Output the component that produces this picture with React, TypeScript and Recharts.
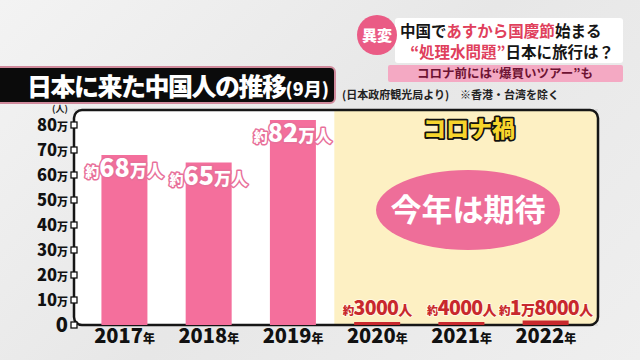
import {
  Bar,
  CartesianGrid,
  Cell,
  ComposedChart,
  LabelList,
  ReferenceArea,
  XAxis,
  YAxis,
} from "recharts";

// 日本に来た中国人 (9月), 単位: 万人
const years = [2017, 2018, 2019, 2020, 2021, 2022];
const visitors = [68, 65, 82, 0.3, 0.4, 1.8];
const valueLabels = ["約68万人", "約65万人", "約82万人", "約3000人", "約4000人", "約1万8000人"];
const covidYears = [2020, 2021, 2022];
const yTicks = [0, 10, 20, 30, 40, 50, 60, 70, 80];

const rows = years.map((year, i) => ({ year, visitors: visitors[i], label: valueLabels[i] }));

const X_DOMAIN: [number, number] = [2016.4, 2022.62];
const Y_MAX = 86;
const COVID_FROM = 2019.49;

const FONT = "'Noto Sans CJK JP', 'Noto Sans', sans-serif";
const PINK = "#f46f9c";
const RED = "#c8282d";
const YELLOW = "#fdf0c3";

function splitLabel(text: string) {
  return text.match(/約|\d+|[^\d約]+/g) ?? [text];
}

function ValueLabel(props: any) {
  const { x, y, width, height, value } = props;
  const idx = valueLabels.indexOf(value);
  const covid = covidYears.includes(years[idx]);
  const cx = x + width / 2;
  const sizes = covid ? { pre: 11.5, num: 19.5, unit: 14 } : { pre: 14, num: 25, unit: 17 };
  const centerY = covid ? y + height - 17 : y + 13;
  const parts = splitLabel(String(value));
  return (
    <text
      x={cx}
      y={centerY + sizes.num * 0.36}
      textAnchor="middle"
      fontFamily={FONT}
      fontWeight={900}
      letterSpacing={covid ? -0.7 : 0}
      fill={covid ? RED : "#fff"}
      stroke={covid ? "#fff8e2" : "#e8709a"}
      strokeWidth={covid ? 2 : 3}
      paintOrder="stroke"
      strokeLinejoin="round"
    >
      {parts.map((p, i) => (
        <tspan key={i} fontSize={p === "約" ? sizes.pre : /\d/.test(p) ? sizes.num : sizes.unit}>
          {p}
        </tspan>
      ))}
    </text>
  );
}

function YTick(props: any) {
  const { x, y, payload } = props;
  const v = payload.value;
  return (
    <g>
      <text x={x - 1} y={y} dy={v === 0 ? 7 : 6} textAnchor="end" fontFamily={FONT} fontWeight={900} fill="#111">
        {v === 0 ? (
          <tspan fontSize={20}>0</tspan>
        ) : (
          <>
            <tspan fontSize={16.5}>{v}</tspan>
            <tspan fontSize={11}>万</tspan>
          </>
        )}
      </text>
      <rect x={x + 2} y={y - 3} width={6} height={6} fill="#fff" stroke="#111" strokeWidth={1.3} />
    </g>
  );
}

function XTick(props: any) {
  const { x, y, payload } = props;
  return (
    <text x={x} y={y + 18} textAnchor="middle" fontFamily={FONT} fontWeight={900} fill="#111">
      <tspan fontSize={20}>{payload.value}</tspan>
      <tspan fontSize={12}>年</tspan>
    </text>
  );
}

const frameBg = (p: any) => <rect x={p.x} y={p.y} width={p.width} height={p.height} rx={8} fill="#fff" />;
const covidBg = (p: any) => {
  const r = 8;
  const { x, y, width: w, height: h } = p;
  return (
    <path
      d={`M${x},${y} H${x + w - r} Q${x + w},${y} ${x + w},${y + r} V${y + h - r} Q${x + w},${y + h} ${x + w - r},${y + h} H${x} Z`}
      fill={YELLOW}
    />
  );
};
const frameLine = (p: any) => (
  <rect x={p.x} y={p.y} width={p.width} height={p.height} rx={8} fill="none" stroke="#161616" strokeWidth={2.5} />
);

export default function App() {
  return (
    <div
      style={{
        position: "absolute",
        left: 0,
        top: 0,
        width: 640,
        height: 360,
        overflow: "hidden",
        background: "linear-gradient(135deg, #f3f3f3 0%, #e7e7e7 50%, #efefef 100%)",
        fontFamily: FONT,
      }}
    >
      <div style={{ position: "absolute", left: 0, top: 0 }}>
        <ComposedChart width={640} height={360} data={rows} margin={{ top: 110, right: 42, bottom: 5, left: 14 }}>
          <ReferenceArea x1={X_DOMAIN[0]} x2={X_DOMAIN[1]} y1={0} y2={Y_MAX} shape={frameBg} ifOverflow="visible" />
          <ReferenceArea x1={COVID_FROM} x2={X_DOMAIN[1]} y1={0} y2={Y_MAX} shape={covidBg} ifOverflow="visible" />
          <CartesianGrid vertical={false} stroke="#cfcfcf" strokeWidth={1.2} />
          <XAxis
            dataKey="year"
            type="number"
            domain={X_DOMAIN}
            ticks={years}
            allowDataOverflow
            height={30}
            axisLine={false}
            tickLine={false}
            tickSize={0}
            tickMargin={0}
            tick={XTick}
          />
          <YAxis
            type="number"
            domain={[0, Y_MAX]}
            ticks={yTicks}
            allowDataOverflow
            width={60}
            axisLine={false}
            tickLine={false}
            tickSize={0}
            tickMargin={5}
            tick={YTick}
          />
          <Bar dataKey="visitors" barSize={46} minPointSize={3} isAnimationActive={false}>
            {rows.map((r) => (
              <Cell key={r.year} fill={covidYears.includes(r.year) ? RED : PINK} />
            ))}
            <LabelList dataKey="label" content={ValueLabel} />
          </Bar>
          <ReferenceArea x1={X_DOMAIN[0]} x2={X_DOMAIN[1]} y1={0} y2={Y_MAX} shape={frameLine} ifOverflow="visible" />
        </ComposedChart>
      </div>

      <svg width={640} height={360} style={{ position: "absolute", left: 0, top: 0, pointerEvents: "none" }}>
        {/* headline */}
        <rect x={395} y={18} width={228} height={45} rx={3} fill="#fff" />
        <circle cx={377} cy={35} r={20} fill="#ea5b85" />
        <text x={377} y={41} textAnchor="middle" fontSize={15} fontWeight={900} fill="#fff" fontFamily={FONT}>
          異変
        </text>
        <text x={400} y={37} fontSize={15.5} fontWeight={700} fill="#151515" fontFamily={FONT}>
          中国で<tspan fill="#e0405c">あすから国慶節</tspan>始まる
        </text>
        <text x={614} y={58} textAnchor="end" fontSize={15.5} fontWeight={700} fill="#151515" fontFamily={FONT}>
          <tspan fill="#e0405c">“処理水問題”</tspan>日本に旅行は？
        </text>
        <rect x={388} y={65} width={235} height={17} rx={2} fill="#f4a9c3" />
        <text x={505} y={78} textAnchor="middle" fontSize={12.5} fontWeight={700} fill="#6e1333" fontFamily={FONT}>
          コロナ前には“爆買いツアー”も
        </text>

        {/* title */}
        <rect x={-4} y={67} width={339} height={36} rx={5} fill="#0b0b0b" stroke="#d08a9c" strokeWidth={2} />
        <text x={27} y={96} fontSize={25} fontWeight={900} fill="#fff" letterSpacing={-1.5} fontFamily={FONT}>
          日本に来た中国人の推移<tspan fontSize={18} letterSpacing={0}>(9月)</tspan>
        </text>
        <text x={342} y={99} fontSize={11} fontWeight={700} fill="#222" fontFamily={FONT}>
          (日本政府観光局より)　※香港・台湾を除く
        </text>
        <text x={60} y={112} textAnchor="middle" fontSize={9} fontWeight={700} fill="#222" fontFamily={FONT}>
          (人)
        </text>

        {/* covid annotation */}
        <text
          x={469}
          y={137}
          textAnchor="middle"
          fontSize={23}
          fontWeight={900}
          fill="#f7d52c"
          stroke="#111"
          strokeWidth={3.5}
          paintOrder="stroke"
          strokeLinejoin="round"
          fontFamily={FONT}
        >
          コロナ禍
        </text>
        <ellipse cx={468} cy={210} rx={92} ry={40} fill="#ee6e99" />
        <text x={468} y={221} textAnchor="middle" fontSize={31} fontWeight={700} fill="#fff" fontFamily={FONT}>
          今年は期待
        </text>
      </svg>
    </div>
  );
}
